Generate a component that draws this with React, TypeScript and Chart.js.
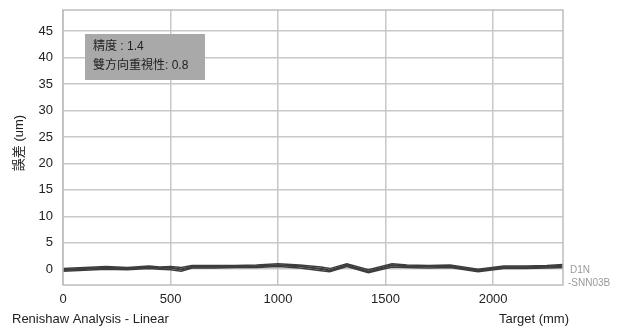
import React, { useEffect, useRef } from "react";
import { Chart, registerables } from "chart.js";

Chart.register(...registerables);

const targets = [0, 100, 200, 300, 400, 450, 500, 550, 600, 700, 800, 900, 1000, 1100, 1200, 1240, 1320, 1420, 1530, 1600, 1700, 1800, 1930, 2050, 2150, 2250, 2325];
const run1 = [-0.2, 0.0, 0.2, 0.1, 0.3, 0.2, 0.2, -0.1, 0.4, 0.4, 0.5, 0.5, 0.7, 0.5, 0.1, -0.2, 0.8, -0.5, 0.7, 0.5, 0.5, 0.5, -0.3, 0.3, 0.3, 0.4, 0.6];
const run2 = [0.1, 0.3, 0.5, 0.3, 0.6, 0.4, 0.5, 0.3, 0.7, 0.7, 0.7, 0.8, 1.0, 0.8, 0.4, 0.1, 1.0, -0.1, 1.0, 0.8, 0.7, 0.8, 0.0, 0.6, 0.6, 0.7, 0.9];
const run3 = [-0.4, -0.2, 0.0, -0.1, 0.1, 0.0, -0.1, -0.4, 0.2, 0.2, 0.3, 0.3, 0.5, 0.2, -0.3, -0.5, 0.5, -0.7, 0.4, 0.3, 0.2, 0.3, -0.5, 0.1, 0.1, 0.2, 0.3];
const run4 = [-0.1, 0.1, 0.3, 0.1, 0.4, 0.2, 0.3, 0.0, 0.5, 0.5, 0.5, 0.6, 0.8, 0.6, 0.0, -0.3, 0.7, -0.4, 0.8, 0.6, 0.5, 0.6, -0.2, 0.4, 0.4, 0.5, 0.7];
const runs = [run1, run2, run3, run4];

const yTicks = [0, 5, 10, 15, 20, 25, 30, 35, 40, 45];
const xTicks = [0, 500, 1000, 1500, 2000];
const statLines = ["精度 : 1.4", "雙方向重視性: 0.8"];
const yTitle = "誤差 (um)";
const footLeft = "Renishaw Analysis - Linear";
const footRight = "Target (mm)";
const sideLabel = ["D1N", "-SNN03B"];

const FONT = "'Liberation Sans', Arial, sans-serif";
const CJK = "'Liberation Sans', 'Noto Sans CJK TC', sans-serif";

const extras = {
  id: "extras",
  beforeDatasetsDraw(chart: any) {
    const { ctx, chartArea } = chart;
    ctx.save();
    ctx.fillStyle = "#a9a9a9";
    ctx.fillRect(chartArea.left + 22, chartArea.top + 24, 120, 46);
    ctx.restore();
  },
  afterDraw(chart: any) {
    const { ctx, chartArea } = chart;
    ctx.save();
    ctx.strokeStyle = "#bdbdbd";
    ctx.lineWidth = 1.5;
    ctx.strokeRect(chartArea.left, chartArea.top, chartArea.right - chartArea.left, chartArea.bottom - chartArea.top);
    ctx.fillStyle = "#222";
    ctx.font = "12px " + CJK;
    ctx.textBaseline = "middle";
    ctx.textAlign = "left";
    ctx.fillText(statLines[0], chartArea.left + 30, chartArea.top + 37);
    ctx.fillText(statLines[1], chartArea.left + 30, chartArea.top + 56);
    ctx.save();
    ctx.translate(19, 143);
    ctx.rotate(-Math.PI / 2);
    ctx.textAlign = "center";
    ctx.font = "13px " + CJK;
    ctx.fillStyle = "#222";
    ctx.fillText(yTitle, 0, 0);
    ctx.restore();
    ctx.font = "13px " + FONT;
    ctx.fillStyle = "#222";
    ctx.textAlign = "left";
    ctx.fillText(footLeft, 12, 319);
    ctx.textAlign = "right";
    ctx.fillText(footRight, 569, 319);
    ctx.font = "10px " + FONT;
    ctx.fillStyle = "#9a9a9a";
    ctx.textAlign = "left";
    ctx.fillText(sideLabel[0], chartArea.right + 7, 270);
    ctx.fillText(sideLabel[1], chartArea.right + 5, 283);
    ctx.restore();
  },
};

export default function App() {
  const ref = useRef<HTMLCanvasElement>(null);
  useEffect(() => {
    if (!ref.current) return;
    const chart = new Chart(ref.current, {
      type: "line",
      data: {
        datasets: runs.map((r, i) => ({
          label: "run" + (i + 1),
          data: targets.map((t, j) => ({ x: t, y: r[j] })),
          borderColor: "#3d3d3d",
          borderWidth: 1.5,
          pointRadius: 0,
          tension: 0,
          fill: false,
        })),
      },
      options: {
        animation: false,
        responsive: false,
        maintainAspectRatio: false,
        events: [],
        layout: { padding: { left: 0, right: 54, top: 10, bottom: 0 } },
        plugins: { legend: { display: false }, tooltip: { enabled: false } },
        scales: {
          x: {
            type: "linear",
            min: 0,
            max: 2325,
            afterBuildTicks: (axis: any) => {
              axis.ticks = xTicks.map((v) => ({ value: v }));
            },
            afterFit: (s: any) => {
              s.height = 44;
              s.paddingLeft = 0;
              s.paddingRight = 0;
            },
            grid: { color: "#c8c8c8", lineWidth: 1.5, drawTicks: false },
            border: { display: false },
            ticks: {
              color: "#222",
              font: { family: FONT, size: 13 },
              padding: 7,
              maxRotation: 0,
              callback: (v: any) => String(v),
            },
          },
          y: {
            type: "linear",
            min: -3,
            max: 49,
            afterBuildTicks: (axis: any) => {
              axis.ticks = yTicks.map((v) => ({ value: v }));
            },
            afterFit: (s: any) => {
              s.width = 63;
              s.paddingTop = 0;
              s.paddingBottom = 0;
            },
            grid: { color: "#c8c8c8", lineWidth: 1.5, drawTicks: false },
            border: { display: false },
            ticks: { color: "#222", font: { family: FONT, size: 13 }, padding: 10, callback: (v: any) => String(v) },
          },
        },
      },
      plugins: [extras],
    });
    return () => chart.destroy();
  }, []);
  return (
    <div style={{ position: "absolute", left: 0, top: 0, width: 617, height: 329, background: "#fff" }}>
      <canvas ref={ref} width={617} height={329} style={{ width: 617, height: 329 }} />
    </div>
  );
}
